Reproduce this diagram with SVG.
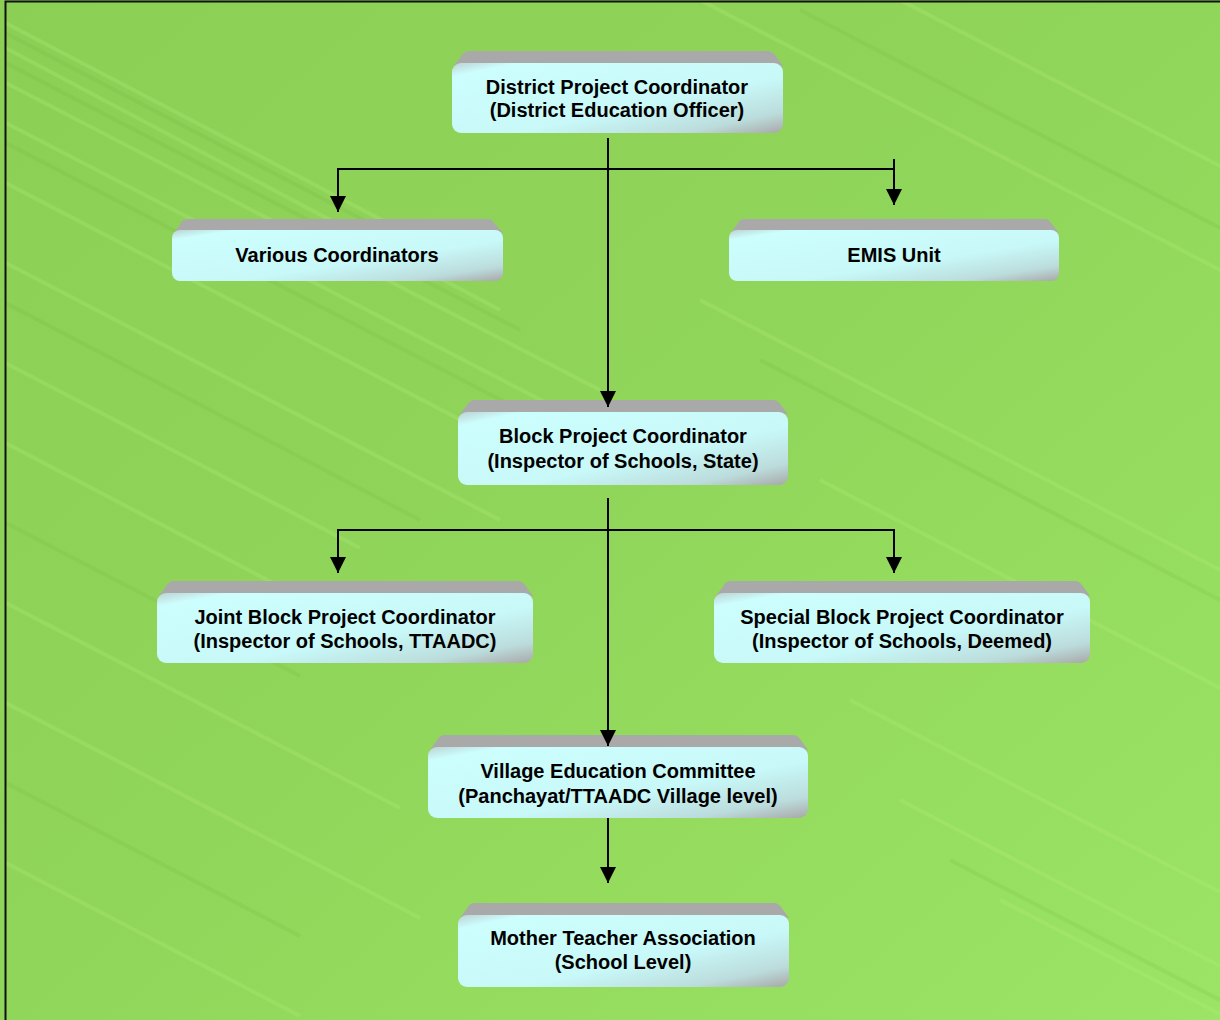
<svg xmlns="http://www.w3.org/2000/svg" width="1220" height="1020" viewBox="0 0 1220 1020">
<defs>
<linearGradient id="bg" x1="0" y1="0" x2="1" y2="1">
<stop offset="0" stop-color="#8ccf55"/>
<stop offset="0.5" stop-color="#90d65a"/>
<stop offset="1" stop-color="#9be465"/>
</linearGradient>
<linearGradient id="face" x1="0" y1="0" x2="1" y2="1">
<stop offset="0" stop-color="#bcd2d2"/>
<stop offset="0.1" stop-color="#cdfefe"/>
<stop offset="0.6" stop-color="#c8f8f8"/>
<stop offset="0.85" stop-color="#bcdcdc"/>
<stop offset="1" stop-color="#a8a8a8"/>
</linearGradient>
<marker id="arr" markerUnits="userSpaceOnUse" markerWidth="16" markerHeight="16" viewBox="0 0 15 15" refX="15" refY="7.5" orient="auto">
<path d="M0,0 L15,7.5 L0,15 Z" fill="#000"/>
</marker>
<clipPath id="clip"><rect x="6" y="2" width="1214" height="1018"/></clipPath>
</defs>
<style>
.bevel{fill:#a9a9a9;}
.face{fill:url(#face);}
.t{font-family:"Liberation Sans",Arial,sans-serif;font-weight:bold;font-size:20px;fill:#000;text-anchor:middle;}
.c{stroke:#000;stroke-width:2;fill:none;}
.s1{stroke:#b2ee7a;stroke-opacity:0.28;fill:none;}
.s2{stroke:#6fae3c;stroke-opacity:0.15;fill:none;}
</style>
<rect x="0" y="0" width="1220" height="1020" fill="url(#bg)"/>
<g clip-path="url(#clip)">
<g stroke-width="4">
<path class="s1" d="M0 20 L420 240"/>
<path class="s2" d="M0 30 L440 260"/>
<path class="s1" d="M0 45 L500 310"/>
<path class="s2" d="M0 60 L520 330"/>
<path class="s1" d="M0 80 L600 390"/>
<path class="s1" d="M0 120 L560 410"/>
<path class="s2" d="M0 140 L520 410"/>
<path class="s1" d="M0 180 L480 430"/>
<path class="s1" d="M0 260 L500 520"/>
<path class="s2" d="M0 300 L420 520"/>
<path class="s1" d="M0 360 L360 548"/>
<path class="s1" d="M0 440 L420 660"/>
<path class="s2" d="M0 520 L300 676"/>
<path class="s1" d="M0 600 L400 808"/>
<path class="s1" d="M0 700 L420 918"/>
<path class="s2" d="M0 780 L300 936"/>
<path class="s1" d="M0 860 L300 1016"/>
<path class="s1" d="M700 0 L1220 270"/>
<path class="s2" d="M800 10 L1220 228"/>
<path class="s1" d="M900 0 L1220 166"/>
<path class="s1" d="M700 300 L1220 570"/>
<path class="s2" d="M760 360 L1220 600"/>
<path class="s1" d="M820 480 L1220 688"/>
<path class="s1" d="M850 700 L1220 892"/>
<path class="s1" d="M900 800 L1220 966"/>
<path class="s2" d="M950 860 L1220 1000"/>
<path class="s1" d="M1000 900 L1220 1014"/>
</g>
</g>
<rect x="5.5" y="1.5" width="1240" height="1040" fill="none" stroke="#111" stroke-width="2"/>

<g id="district">
<path class="bevel" d="M454 66 L462 55 Q465 51 470 51 L767 51 Q772 51 775 55 L783 66 Z"/>
<rect class="face" x="452" y="63" width="331" height="70" rx="9"/>
<text class="t" x="617" y="94">District Project Coordinator</text>
<text class="t" x="617" y="117">(District Education Officer)</text>
</g>

<g id="various">
<path class="bevel" d="M174 233 L181 223 Q183 219 188 219 L488 219 Q492 219 494 223 L503 233 Z"/>
<rect class="face" x="172" y="230" width="331" height="51" rx="8"/>
<text class="t" x="337" y="262">Various Coordinators</text>
</g>

<g id="emis">
<path class="bevel" d="M731 233 L738 223 Q740 219 745 219 L1045 219 Q1049 219 1051 223 L1059 233 Z"/>
<rect class="face" x="729" y="230" width="330" height="51" rx="8"/>
<text class="t" x="894" y="262">EMIS Unit</text>
</g>

<g id="block">
<path class="bevel" d="M460 414 L468 404 Q470 400 475 400 L773 400 Q777 400 780 404 L788 414 Z"/>
<rect class="face" x="458" y="412" width="330" height="73" rx="9"/>
<text class="t" x="623" y="443">Block Project Coordinator</text>
<text class="t" x="623" y="468">(Inspector of Schools, State)</text>
</g>

<g id="joint">
<path class="bevel" d="M159 596 L167 585 Q169 581 174 581 L518 581 Q522 581 525 585 L533 596 Z"/>
<rect class="face" x="157" y="593" width="376" height="70" rx="9"/>
<text class="t" x="345" y="624">Joint Block Project Coordinator</text>
<text class="t" x="345" y="648">(Inspector of Schools, TTAADC)</text>
</g>

<g id="special">
<path class="bevel" d="M716 596 L724 585 Q726 581 731 581 L1075 581 Q1079 581 1082 585 L1090 596 Z"/>
<rect class="face" x="714" y="593" width="376" height="70" rx="9"/>
<text class="t" x="902" y="624">Special Block Project Coordinator</text>
<text class="t" x="902" y="648">(Inspector of Schools, Deemed)</text>
</g>

<g id="village">
<path class="bevel" d="M430 750 L438 739 Q440 735 445 735 L793 735 Q797 735 800 739 L808 750 Z"/>
<rect class="face" x="428" y="747" width="380" height="71" rx="9"/>
<text class="t" x="618" y="778">Village Education Committee</text>
<text class="t" x="618" y="803">(Panchayat/TTAADC Village level)</text>
</g>

<g id="mother">
<path class="bevel" d="M460 918 L468 907 Q470 903 475 903 L774 903 Q778 903 781 907 L789 918 Z"/>
<rect class="face" x="458" y="915" width="331" height="72" rx="9"/>
<text class="t" x="623" y="945">Mother Teacher Association</text>
<text class="t" x="623" y="969">(School Level)</text>
</g>

<g id="connectors">
<path class="c" d="M608 138 V407" marker-end="url(#arr)"/>
<path class="c" d="M338 169 H894"/>
<path class="c" d="M338 168 V212" marker-end="url(#arr)"/>
<path class="c" d="M894 159 V205" marker-end="url(#arr)"/>
<path class="c" d="M608 498 V746" marker-end="url(#arr)"/>
<path class="c" d="M338 530 H894"/>
<path class="c" d="M338 529 V573" marker-end="url(#arr)"/>
<path class="c" d="M894 529 V573" marker-end="url(#arr)"/>
<path class="c" d="M608 818 V883" marker-end="url(#arr)"/>
</g>
</svg>
